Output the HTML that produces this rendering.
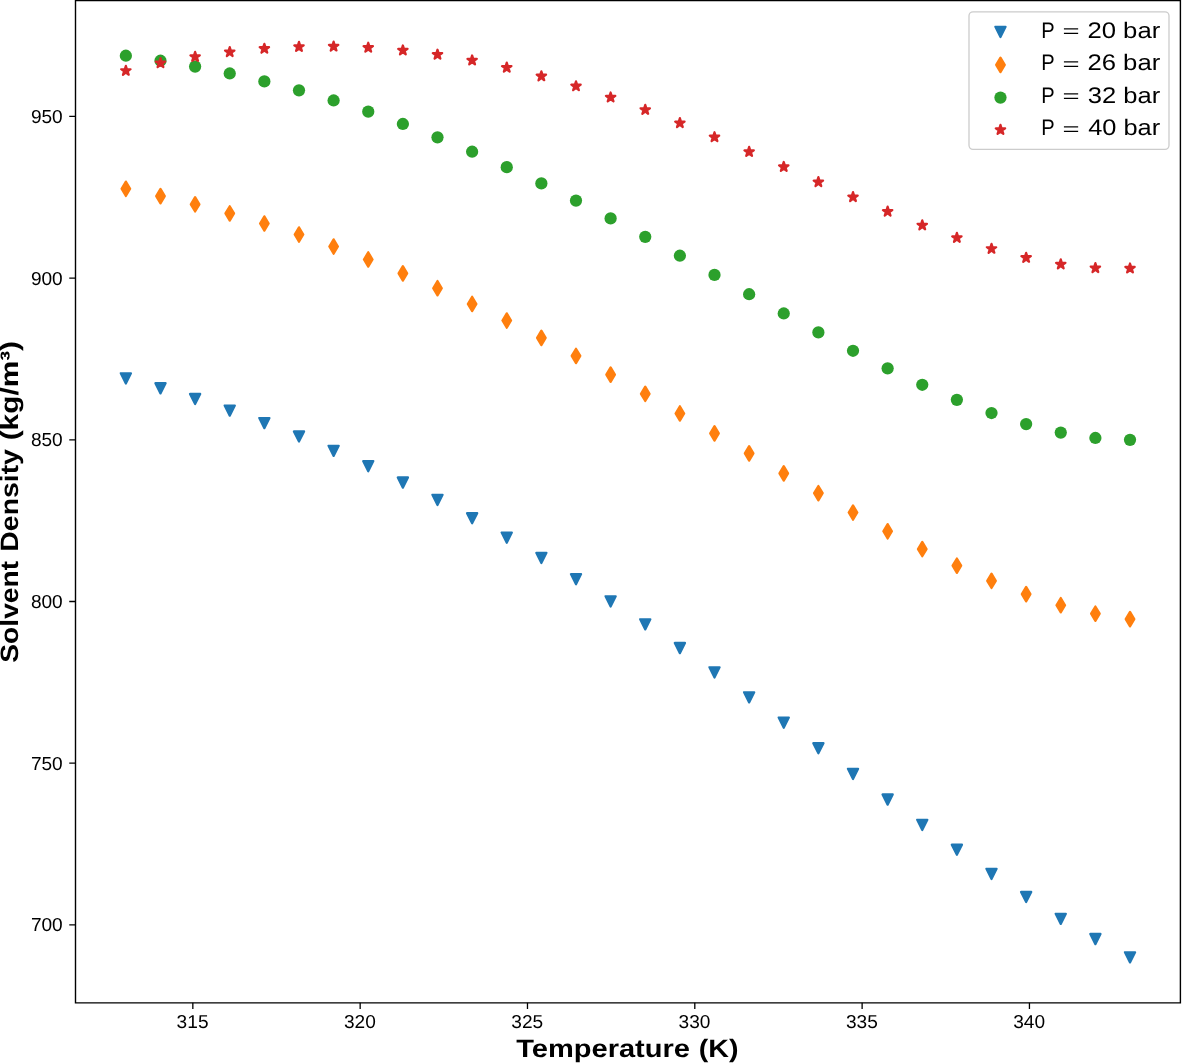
<!DOCTYPE html>
<html><head><meta charset="utf-8"><title>Solvent Density vs Temperature</title>
<style>
html,body{margin:0;padding:0;background:#fff;width:1182px;height:1063px;overflow:hidden;}
svg{display:block;will-change:transform;}
text{font-family:"Liberation Sans",sans-serif;text-rendering:geometricPrecision;}
</style></head><body>
<svg width="1182" height="1063" viewBox="0 0 1182 1063">
<defs><path id="mt" d="M-5.1,-5.1 L5.1,-5.1 L0,5.1 Z" stroke-width="2.2" stroke-linejoin="round"/><path id="md" d="M0,-7.212 L4.327,0 L0,7.212 L-4.327,0 Z" stroke-width="2.2" stroke-linejoin="round"/><path id="ms" d="M0.000,-4.950 L1.111,-1.530 L4.708,-1.530 L1.798,0.584 L2.910,4.005 L0.000,1.891 L-2.910,4.005 L-1.798,0.584 L-4.708,-1.530 L-1.111,-1.530 Z" stroke-width="2.2" stroke-linejoin="round"/></defs>
<rect width="100%" height="100%" fill="#fff"/>
<g fill="#1f77b4" stroke="#1f77b4"><use href="#mt" x="125.86" y="378.39"/><use href="#mt" x="160.49" y="388.31"/><use href="#mt" x="195.11" y="399.03"/><use href="#mt" x="229.74" y="410.61"/><use href="#mt" x="264.36" y="423.08"/><use href="#mt" x="298.99" y="436.49"/><use href="#mt" x="333.62" y="450.86"/><use href="#mt" x="368.24" y="466.21"/><use href="#mt" x="402.87" y="482.56"/><use href="#mt" x="437.49" y="499.92"/><use href="#mt" x="472.12" y="518.28"/><use href="#mt" x="506.75" y="537.64"/><use href="#mt" x="541.37" y="557.97"/><use href="#mt" x="576" y="579.23"/><use href="#mt" x="610.62" y="601.38"/><use href="#mt" x="645.25" y="624.35"/><use href="#mt" x="679.88" y="648.06"/><use href="#mt" x="714.5" y="672.43"/><use href="#mt" x="749.13" y="697.33"/><use href="#mt" x="783.75" y="722.66"/><use href="#mt" x="818.38" y="748.25"/><use href="#mt" x="853.01" y="773.95"/><use href="#mt" x="887.63" y="799.57"/><use href="#mt" x="922.26" y="824.92"/><use href="#mt" x="956.88" y="849.77"/><use href="#mt" x="991.51" y="873.89"/><use href="#mt" x="1026.14" y="897"/><use href="#mt" x="1060.76" y="918.83"/><use href="#mt" x="1095.39" y="939.06"/><use href="#mt" x="1130.01" y="957.37"/></g>
<g fill="#ff7f0e" stroke="#ff7f0e"><use href="#md" x="125.86" y="188.78"/><use href="#md" x="160.49" y="196.12"/><use href="#md" x="195.11" y="204.32"/><use href="#md" x="229.74" y="213.44"/><use href="#md" x="264.36" y="223.5"/><use href="#md" x="298.99" y="234.52"/><use href="#md" x="333.62" y="246.51"/><use href="#md" x="368.24" y="259.47"/><use href="#md" x="402.87" y="273.38"/><use href="#md" x="437.49" y="288.22"/><use href="#md" x="472.12" y="303.95"/><use href="#md" x="506.75" y="320.52"/><use href="#md" x="541.37" y="337.87"/><use href="#md" x="576" y="355.93"/><use href="#md" x="610.62" y="374.62"/><use href="#md" x="645.25" y="393.83"/><use href="#md" x="679.88" y="413.46"/><use href="#md" x="714.5" y="433.36"/><use href="#md" x="749.13" y="453.39"/><use href="#md" x="783.75" y="473.4"/><use href="#md" x="818.38" y="493.18"/><use href="#md" x="853.01" y="512.55"/><use href="#md" x="887.63" y="531.26"/><use href="#md" x="922.26" y="549.06"/><use href="#md" x="956.88" y="565.68"/><use href="#md" x="991.51" y="580.81"/><use href="#md" x="1026.14" y="594.11"/><use href="#md" x="1060.76" y="605.2"/><use href="#md" x="1095.39" y="613.69"/><use href="#md" x="1130.01" y="619.13"/></g>
<g fill="#2ca02c"><circle cx="125.86" cy="55.74" r="6.125"/><circle cx="160.49" cy="60.71" r="6.125"/><circle cx="195.11" cy="66.6" r="6.125"/><circle cx="229.74" cy="73.47" r="6.125"/><circle cx="264.36" cy="81.38" r="6.125"/><circle cx="298.99" cy="90.37" r="6.125"/><circle cx="333.62" cy="100.46" r="6.125"/><circle cx="368.24" cy="111.66" r="6.125"/><circle cx="402.87" cy="123.96" r="6.125"/><circle cx="437.49" cy="137.33" r="6.125"/><circle cx="472.12" cy="151.74" r="6.125"/><circle cx="506.75" cy="167.14" r="6.125"/><circle cx="541.37" cy="183.44" r="6.125"/><circle cx="576" cy="200.56" r="6.125"/><circle cx="610.62" cy="218.41" r="6.125"/><circle cx="645.25" cy="236.84" r="6.125"/><circle cx="679.88" cy="255.74" r="6.125"/><circle cx="714.5" cy="274.93" r="6.125"/><circle cx="749.13" cy="294.24" r="6.125"/><circle cx="783.75" cy="313.47" r="6.125"/><circle cx="818.38" cy="332.39" r="6.125"/><circle cx="853.01" cy="350.77" r="6.125"/><circle cx="887.63" cy="368.33" r="6.125"/><circle cx="922.26" cy="384.78" r="6.125"/><circle cx="956.88" cy="399.8" r="6.125"/><circle cx="991.51" cy="413.02" r="6.125"/><circle cx="1026.14" cy="424.08" r="6.125"/><circle cx="1060.76" cy="432.55" r="6.125"/><circle cx="1095.39" cy="437.97" r="6.125"/><circle cx="1130.01" cy="439.87" r="6.125"/></g>
<g fill="#d62728" stroke="#d62728"><use href="#ms" x="125.86" y="70.76"/><use href="#ms" x="160.49" y="63.11"/><use href="#ms" x="195.11" y="56.86"/><use href="#ms" x="229.74" y="52.05"/><use href="#ms" x="264.36" y="48.71"/><use href="#ms" x="298.99" y="46.85"/><use href="#ms" x="333.62" y="46.5"/><use href="#ms" x="368.24" y="47.67"/><use href="#ms" x="402.87" y="50.39"/><use href="#ms" x="437.49" y="54.63"/><use href="#ms" x="472.12" y="60.38"/><use href="#ms" x="506.75" y="67.6"/><use href="#ms" x="541.37" y="76.24"/><use href="#ms" x="576" y="86.22"/><use href="#ms" x="610.62" y="97.44"/><use href="#ms" x="645.25" y="109.77"/><use href="#ms" x="679.88" y="123.07"/><use href="#ms" x="714.5" y="137.17"/><use href="#ms" x="749.13" y="151.86"/><use href="#ms" x="783.75" y="166.91"/><use href="#ms" x="818.38" y="182.08"/><use href="#ms" x="853.01" y="197.07"/><use href="#ms" x="887.63" y="211.59"/><use href="#ms" x="922.26" y="225.28"/><use href="#ms" x="956.88" y="237.81"/><use href="#ms" x="991.51" y="248.76"/><use href="#ms" x="1026.14" y="257.75"/><use href="#ms" x="1060.76" y="264.33"/><use href="#ms" x="1095.39" y="268.05"/><use href="#ms" x="1130.01" y="268.44"/></g>
<g stroke="#000" stroke-width="1.4" fill="none" stroke-linecap="square"><path d="M75.5,0.6 L75.5,1002.85 M1180.4,0.6 L1180.4,1002.85 M75.5,0.6 L1180.4,0.6 M75.5,1002.85 L1180.4,1002.85"/></g>
<path d="M75.5,116.4 L69.24,116.4 M75.5,278.1 L69.24,278.1 M75.5,439.8 L69.24,439.8 M75.5,601.5 L69.24,601.5 M75.5,763.2 L69.24,763.2 M75.5,924.9 L69.24,924.9 M192.84,1002.85 L192.84,1009.11 M360.16,1002.85 L360.16,1009.11 M527.48,1002.85 L527.48,1009.11 M694.8,1002.85 L694.8,1009.11 M862.12,1002.85 L862.12,1009.11 M1029.44,1002.85 L1029.44,1009.11 " stroke="#000" stroke-width="1.3" fill="none"/>
<g font-family="Liberation Sans, sans-serif" fill="#000">
<text transform="translate(30.89,122.81) scale(1.0152,1)" font-size="18.80">950</text>
<text transform="translate(30.89,284.51) scale(1.0152,1)" font-size="18.80">900</text>
<text transform="translate(30.89,446.21) scale(1.0152,1)" font-size="18.80">850</text>
<text transform="translate(30.89,607.91) scale(1.0152,1)" font-size="18.80">800</text>
<text transform="translate(30.89,769.61) scale(1.0152,1)" font-size="18.80">750</text>
<text transform="translate(30.89,931.31) scale(1.0152,1)" font-size="18.80">700</text>
<text transform="translate(176.62,1027.86) scale(1.0248,1)" font-size="18.66">315</text>
<text transform="translate(343.94,1027.86) scale(1.0232,1)" font-size="18.66">320</text>
<text transform="translate(511.26,1027.86) scale(1.0248,1)" font-size="18.66">325</text>
<text transform="translate(678.58,1027.86) scale(1.0232,1)" font-size="18.66">330</text>
<text transform="translate(845.9,1027.86) scale(1.0248,1)" font-size="18.66">335</text>
<text transform="translate(1013.22,1027.86) scale(1.0232,1)" font-size="18.66">340</text>
<text transform="translate(516.21,1056.78) scale(1.1521,1)" font-size="25.21" font-weight="bold">Temperature</text>
<text transform="translate(698.77,1056.78) scale(1.1348,1)" font-size="25.21" font-weight="bold">(K)</text>
<text transform="translate(18.1,662.72) rotate(-90) scale(1.1242,1)" font-size="25.09" font-weight="bold">Solvent</text>
<text transform="translate(18.1,551.66) rotate(-90) scale(1.1319,1)" font-size="25.09" font-weight="bold">Density</text>
<text transform="translate(18.1,440.32) rotate(-90) scale(1.1883,1)" font-size="25.09" font-weight="bold">(kg/m³)</text>
</g>
<rect x="969.0" y="11.85" width="200.0" height="137.5" rx="4" ry="4" fill="#fff" fill-opacity="0.8" stroke="#cccccc" stroke-width="1.3"/>
<use href="#mt" x="1000.47" y="31.95" fill="#1f77b4" stroke="#1f77b4"/>
<use href="#md" x="1000.47" y="64.9" fill="#ff7f0e" stroke="#ff7f0e"/>
<circle cx="1000.47" cy="97.56" r="6.125" fill="#2ca02c"/>
<use href="#ms" x="1000.47" y="129.85" fill="#d62728" stroke="#d62728"/>
<g font-family="Liberation Sans, sans-serif" fill="#000">
<text transform="translate(1041.34,37.58) scale(0.8913,1)" font-size="22.55">P</text>
<text transform="translate(1062.4,37.06) scale(1.2986,0.7977)" font-size="22.55">=</text>
<text transform="translate(1087.44,37.58) scale(1.1382,1)" font-size="22.55" xml:space="preserve">20 bar</text>
<text transform="translate(1041.34,70.4) scale(0.8913,1)" font-size="22.55">P</text>
<text transform="translate(1062.4,69.88) scale(1.2986,0.7977)" font-size="22.55">=</text>
<text transform="translate(1087.44,70.4) scale(1.1382,1)" font-size="22.55" xml:space="preserve">26 bar</text>
<text transform="translate(1041.34,102.74) scale(0.8913,1)" font-size="22.55">P</text>
<text transform="translate(1062.4,102.22) scale(1.2986,0.7977)" font-size="22.55">=</text>
<text transform="translate(1087.76,102.74) scale(1.1331,1)" font-size="22.55" xml:space="preserve">32 bar</text>
<text transform="translate(1041.34,135.43) scale(0.8913,1)" font-size="22.55">P</text>
<text transform="translate(1062.4,134.91) scale(1.2986,0.7977)" font-size="22.55">=</text>
<text transform="translate(1088.15,135.43) scale(1.1270,1)" font-size="22.55" xml:space="preserve">40 bar</text>
</g>
</svg>
</body></html>
